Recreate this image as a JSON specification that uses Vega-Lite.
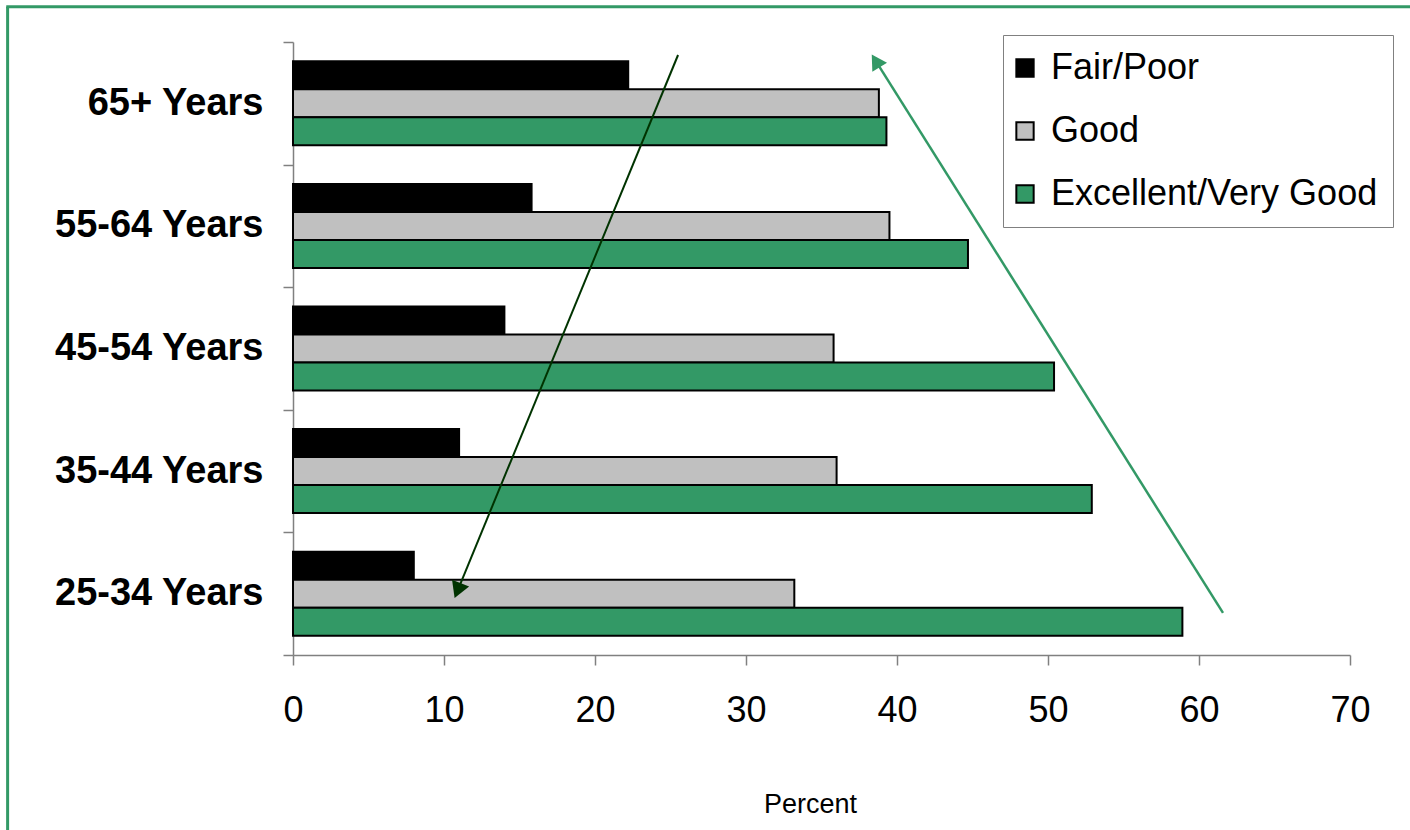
{
  "$schema": "https://vega.github.io/schema/vega-lite/v6.json",
  "width": 1057,
  "height": 613,
  "autosize": {"type": "none"},
  "padding": {"left": 293, "top": 42, "right": 60, "bottom": 175},
  "background": "white",
  "config": {"view": {"stroke": null}, "font": "Liberation Sans"},
  "datasets": {
    "bars": [
      {"age": "65+ Years", "rating": "Fair/Poor", "percent": 22.2},
      {"age": "65+ Years", "rating": "Good", "percent": 38.8},
      {"age": "65+ Years", "rating": "Excellent/Very Good", "percent": 39.3},
      {"age": "55-64 Years", "rating": "Fair/Poor", "percent": 15.8},
      {"age": "55-64 Years", "rating": "Good", "percent": 39.5},
      {"age": "55-64 Years", "rating": "Excellent/Very Good", "percent": 44.7},
      {"age": "45-54 Years", "rating": "Fair/Poor", "percent": 14.0},
      {"age": "45-54 Years", "rating": "Good", "percent": 35.8},
      {"age": "45-54 Years", "rating": "Excellent/Very Good", "percent": 50.4},
      {"age": "35-44 Years", "rating": "Fair/Poor", "percent": 11.0},
      {"age": "35-44 Years", "rating": "Good", "percent": 36.0},
      {"age": "35-44 Years", "rating": "Excellent/Very Good", "percent": 52.9},
      {"age": "25-34 Years", "rating": "Fair/Poor", "percent": 8.0},
      {"age": "25-34 Years", "rating": "Good", "percent": 33.2},
      {"age": "25-34 Years", "rating": "Excellent/Very Good", "percent": 58.9}
    ],
    "arrows": [
      {"arrow": "down", "x": 25.5, "y": 4.894},
      {"arrow": "down", "x": 10.9, "y": 0.526},
      {"arrow": "up", "x": 61.59, "y": 0.343},
      {"arrow": "up", "x": 38.59, "y": 4.846}
    ],
    "heads": [
      {"arrow": "down", "x": 10.9, "y": 0.526},
      {"arrow": "up", "x": 38.59, "y": 4.846}
    ]
  },
  "layer": [
    {
      "data": {"name": "bars"},
      "mark": {"type": "bar", "stroke": "black", "strokeWidth": 2},
      "encoding": {
        "y": {
          "field": "age", "type": "nominal",
          "sort": ["65+ Years", "55-64 Years", "45-54 Years", "35-44 Years", "25-34 Years"],
          "scale": {"paddingInner": 0, "paddingOuter": 0},
          "axis": {"title": null, "tickBand": "extent", "tickSize": 10, "tickColor": "#808080", "tickWidth": 1.5,
                   "domainColor": "#808080", "domainWidth": 1.5, "labelFontSize": 38, "labelFontWeight": "bold",
                   "labelColor": "black", "labelPadding": 20, "labelLimit": 0}
        },
        "yOffset": {
          "field": "rating", "type": "nominal",
          "sort": ["Fair/Poor", "Good", "Excellent/Very Good"],
          "scale": {"paddingInner": 0, "paddingOuter": 0.69}
        },
        "x": {
          "field": "percent", "type": "quantitative",
          "scale": {"domain": [0, 70], "nice": false},
          "axis": {"title": "Percent", "values": [0, 10, 20, 30, 40, 50, 60, 70], "grid": false,
                   "labelFlush": false, "labelOverlap": false,
                   "tickSize": 10, "tickColor": "#808080", "tickWidth": 1.5, "domainColor": "#808080", "domainWidth": 1.5,
                   "labelFontSize": 36, "labelColor": "black", "labelPadding": 28,
                   "titleFontSize": 27, "titleFontWeight": "normal", "titleColor": "black", "titlePadding": 63,
                   "titleX": 517}
        },
        "color": {
          "field": "rating", "type": "nominal",
          "scale": {"domain": ["Fair/Poor", "Good", "Excellent/Very Good"], "range": ["#000000", "#C0C0C0", "#339966"]},
          "legend": {"title": null, "orient": "none", "legendX": 710, "legendY": -7, "direction": "vertical",
                     "strokeColor": "#808080", "fillColor": "white", "padding": 15,
                     "labelFontSize": 36, "labelColor": "black", "labelOffset": 8, "labelLimit": 0,
                     "symbolOffset": -11,
                     "symbolType": "square", "symbolSize": 300, "symbolStrokeColor": "black", "symbolStrokeWidth": 2,
                     "symbolOpacity": 1, "rowPadding": 27}
        }
      }
    },
    {
      "data": {"name": "arrows"},
      "transform": [{"filter": "datum.arrow === 'down'"}],
      "mark": {"type": "line", "color": "#003300", "strokeWidth": 2},
      "encoding": {
        "x": {"field": "x", "type": "quantitative", "scale": {"domain": [0, 70], "nice": false}},
        "y": {"field": "y", "type": "quantitative", "scale": {"domain": [0, 5], "nice": false, "zero": false}, "axis": null},
        "order": {"field": "y", "sort": "descending"}
      }
    },
    {
      "data": {"name": "arrows"},
      "transform": [{"filter": "datum.arrow === 'up'"}],
      "mark": {"type": "line", "color": "#339966", "strokeWidth": 2.5},
      "encoding": {
        "x": {"field": "x", "type": "quantitative", "scale": {"domain": [0, 70], "nice": false}},
        "y": {"field": "y", "type": "quantitative", "scale": {"domain": [0, 5], "nice": false, "zero": false}, "axis": null},
        "order": {"field": "y", "sort": "ascending"}
      }
    },
    {
      "data": {"name": "heads"},
      "transform": [{"filter": "datum.arrow === 'down'"}],
      "mark": {"type": "point", "shape": "triangle-up", "filled": true, "color": "#003300", "opacity": 1, "size": 340, "angle": 202},
      "encoding": {
        "x": {"field": "x", "type": "quantitative", "scale": {"domain": [0, 70], "nice": false}},
        "y": {"field": "y", "type": "quantitative", "scale": {"domain": [0, 5], "nice": false, "zero": false}, "axis": null}
      }
    },
    {
      "data": {"name": "heads"},
      "transform": [{"filter": "datum.arrow === 'up'"}],
      "mark": {"type": "point", "shape": "triangle-up", "filled": true, "color": "#339966", "opacity": 1, "size": 300, "angle": 328},
      "encoding": {
        "x": {"field": "x", "type": "quantitative", "scale": {"domain": [0, 70], "nice": false}},
        "y": {"field": "y", "type": "quantitative", "scale": {"domain": [0, 5], "nice": false, "zero": false}, "axis": null}
      }
    },
    {
      "data": {"values": [{}]},
      "mark": {"type": "rule", "color": "#339966", "strokeWidth": 3},
      "encoding": {
        "x": {"datum": -18.9, "type": "quantitative", "scale": {"domain": [0, 70], "nice": false}},
        "y": {"datum": -1.5, "type": "quantitative", "scale": {"domain": [0, 5], "nice": false, "zero": false}, "axis": null},
        "y2": {"datum": 5.288}
      }
    },
    {
      "data": {"values": [{}]},
      "mark": {"type": "rule", "color": "#339966", "strokeWidth": 3},
      "encoding": {
        "x": {"datum": -18.99, "type": "quantitative", "scale": {"domain": [0, 70], "nice": false}},
        "x2": {"datum": 75},
        "y": {"datum": 5.288, "type": "quantitative", "scale": {"domain": [0, 5], "nice": false, "zero": false}, "axis": null}
      }
    }
  ],
  "resolve": {"scale": {"y": "independent"}}
}
